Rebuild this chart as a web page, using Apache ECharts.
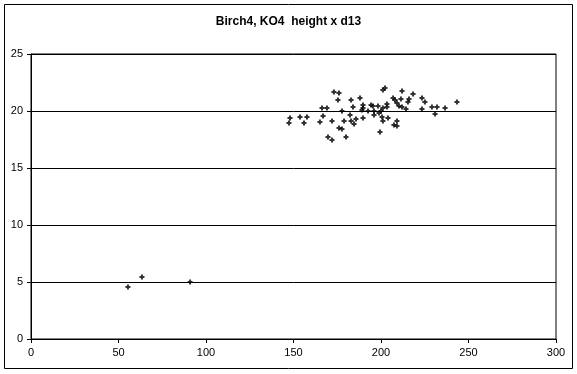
<!DOCTYPE html>
<html>
<head>
<meta charset="utf-8">
<script src="https://cdn.jsdelivr.net/npm/echarts@6/dist/echarts.min.js"></script>
<style>
html,body{margin:0;padding:0;background:#fff;}
#c{width:577px;height:374px;}
</style>
</head>
<body>
<div id="c"></div>
<script>
var titleText = 'Birch4, KO4  height x d13';
var xValues = [55.4,63.4,90.9,
173.1,175.4,166.3,169.1,148.0,153.7,157.7,147.4,156.0,166.9,165.1,172.0,176.0,169.7,172.0,
176.0,182.9,188.0,184.0,189.7,189.7,194.3,195.4,198.3,201.1,202.3,201.1,200.0,177.7,192.6,196.0,
189.1,198.9,182.3,178.9,182.9,185.7,189.7,196.0,200.6,201.1,204.0,184.6,177.7,199.4,180.0,
212.0,218.3,206.9,208.0,211.4,216.0,203.4,203.4,209.1,210.3,212.0,223.4,225.1,215.4,214.3,223.4,
229.1,232.0,230.9,209.1,207.4,209.1,236.6,243.4];
var yValues = [4.56,5.44,5.0,
21.67,20.96,20.26,20.26,19.39,19.47,19.47,18.95,18.95,19.56,19.04,19.12,18.51,17.72,17.46,
21.58,20.96,21.14,20.35,20.53,20.26,20.53,20.44,20.44,21.84,22.02,20.26,20.0,20.0,20.0,20.0,
20.09,19.82,19.65,19.12,19.12,19.30,19.39,19.65,19.47,19.12,19.39,18.86,18.42,18.16,17.72,
21.75,21.49,21.14,20.96,21.05,21.05,20.61,20.35,20.70,20.44,20.35,21.14,20.79,20.79,20.18,20.18,
20.35,20.35,19.74,19.12,18.77,18.68,20.26,20.79];
var xTicks = [0,50,100,150,200,250,300];
var yTicks = [0,5,10,15,20,25];

var pts = xValues.map(function(x,i){return [x, yValues[i]];});
var chart = echarts.init(document.getElementById('c'), null, {renderer:'canvas'});
var font = 'Liberation Sans, Arial, sans-serif';
chart.setOption({
  animation:false,
  backgroundColor:'#ffffff',
  title:{text:titleText,left:'center',top:11,textStyle:{fontFamily:font,fontSize:12,fontWeight:'bold',color:'#000'}},
  grid:{left:31,right:21,top:54,bottom:35,show:true,borderColor:'#000',borderWidth:1,backgroundColor:'transparent'},
  xAxis:{type:'value',min:xTicks[0],max:xTicks[xTicks.length-1],interval:50,
    axisLine:{lineStyle:{color:'#000',width:1}},
    axisTick:{show:true,length:4,inside:false,lineStyle:{color:'#000'}},
    axisLabel:{fontFamily:font,fontSize:11,color:'#000',margin:8},
    splitLine:{show:false}},
  yAxis:{type:'value',min:yTicks[0],max:yTicks[yTicks.length-1],interval:5,
    axisLine:{show:true,lineStyle:{color:'#000',width:1}},
    axisTick:{show:true,length:4,inside:false,lineStyle:{color:'#000'}},
    axisLabel:{fontFamily:font,fontSize:11,color:'#000',margin:8},
    splitLine:{show:true,lineStyle:{color:'#000',width:1}}},
  graphic:[{type:'rect',shape:{x:4.5,y:4.5,width:568,height:364},style:{fill:'none',stroke:'#000',lineWidth:1},silent:true}],
  series:[{type:'scatter',data:pts,symbol:'path://M1.5,0H3.5V1.5H5V3.5H3.5V5H1.5V3.5H0V1.5H1.5Z',symbolSize:5,
    itemStyle:{color:'#000'}}]
});
</script>
</body>
</html>
